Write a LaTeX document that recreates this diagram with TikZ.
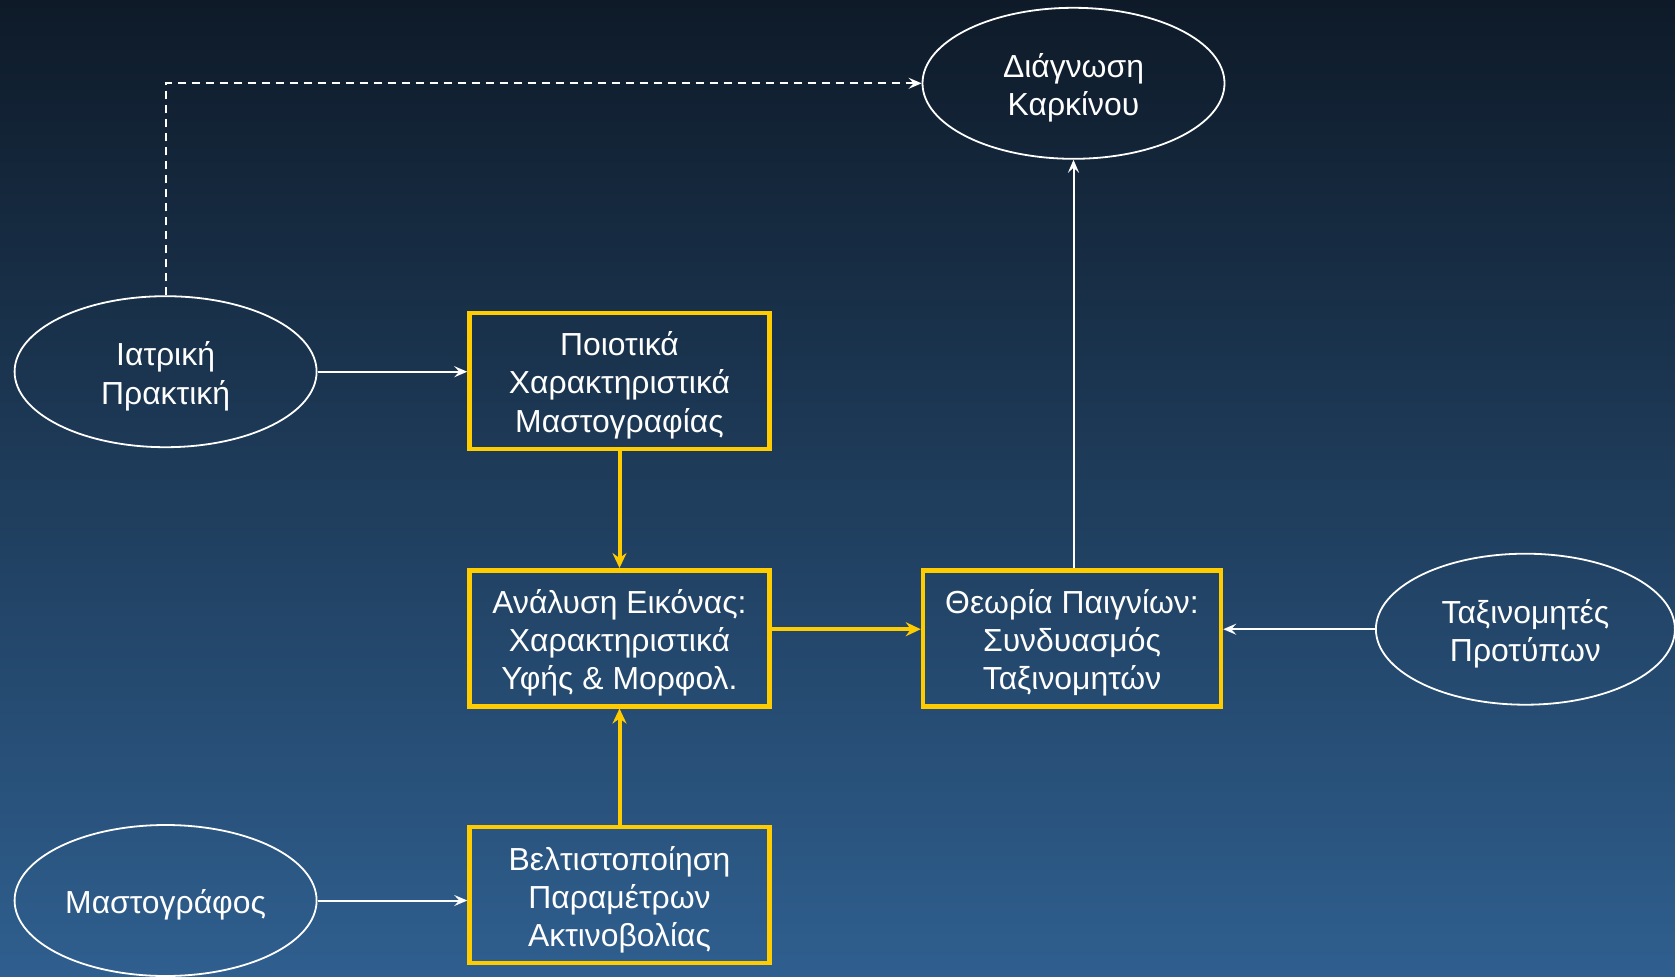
\documentclass[tikz,border=0pt]{standalone}
\usepackage{fontspec}
\setmainfont{Liberation Sans}
\usetikzlibrary{arrows.meta,shapes.geometric}
\definecolor{bgtop}{RGB}{14,26,40}
\definecolor{bgbottom}{RGB}{47,95,143}
\definecolor{gold}{RGB}{255,204,0}
% centred lines of text, set slightly below the shape centre
\newcommand{\lines}[1]{\raisebox{-5.5bp}[\height][\depth]{\begin{tabular}{@{}c@{}}#1\end{tabular}}}
\begin{document}
\begin{tikzpicture}[x=1bp,y=-1bp,
  every node/.style={text=white,font=\fontsize{32}{38.5}\selectfont},
  oval/.style={ellipse,draw=white,line width=1.8bp,minimum width=302bp,minimum height=151bp,inner sep=0pt},
  stage/.style={rectangle,draw=gold,line width=4.5bp,minimum width=300bp,minimum height=136bp,inner sep=0pt},
  link/.style={draw=white,line width=2bp,-{Stealth[length=13bp,width=11bp,inset=5bp]}},
  flow/.style={draw=gold,line width=4bp,-{Stealth[length=15bp,width=14bp,inset=5bp]}}]
  % backdrop
  \shade[top color=bgtop,bottom color=bgbottom] (0,0) rectangle (1675,976);
  \useasboundingbox (0,0) rectangle (1675,976);

  % sources and outcome
  \node[oval] (diag) at (1073.5,83.3) {\lines{Διάγνωση\\Καρκίνου}};
  \node[oval] (med) at (165.6,371.7) {\lines{Ιατρική\\Πρακτική}};
  \node[oval] (mamm) at (165.6,900.5) {\lines{Μαστογράφος}};
  \node[oval,minimum width=299bp] (clf) at (1525.4,629.2) {\lines{Ταξινομητές\\Προτύπων}};

  % processing stages
  \node[stage] (qual) at (619.5,380.8) {\lines{Ποιοτικά\\Χαρακτηριστικά\\Μαστογραφίας}};
  \node[stage] (img) at (619.5,638.3) {\lines{Ανάλυση Εικόνας:\\Χαρακτηριστικά\\Υφής \& Μορφολ.}};
  \node[stage] (dose) at (619.5,895.2) {\lines{Βελτιστοποίηση\\Παραμέτρων\\Ακτινοβολίας}};
  \node[stage,minimum width=298bp] (game) at (1072,638.3) {\lines{Θεωρία Παιγνίων:\\Συνδυασμός\\Ταξινομητών}};

  % connectors
  \draw[link] (med.east) -- (med.east -| qual.west);
  \draw[link] (mamm.east) -- (mamm.east -| dose.west);
  \draw[link] (clf.west) -- (clf.west -| game.east);
  \draw[link] (game.north -| diag.south) -- (diag.south);
  \draw[link,line width=1.8bp,dash pattern=on 8bp off 6bp] (med.north) -- (med.north |- diag.west) -- (diag.west);
  \draw[flow] (qual.south) -- (img.north);
  \draw[flow] (dose.north) -- (img.south);
  \draw[flow] (img.east |- clf.west) -- (game.west |- clf.west);
\end{tikzpicture}
\end{document}
